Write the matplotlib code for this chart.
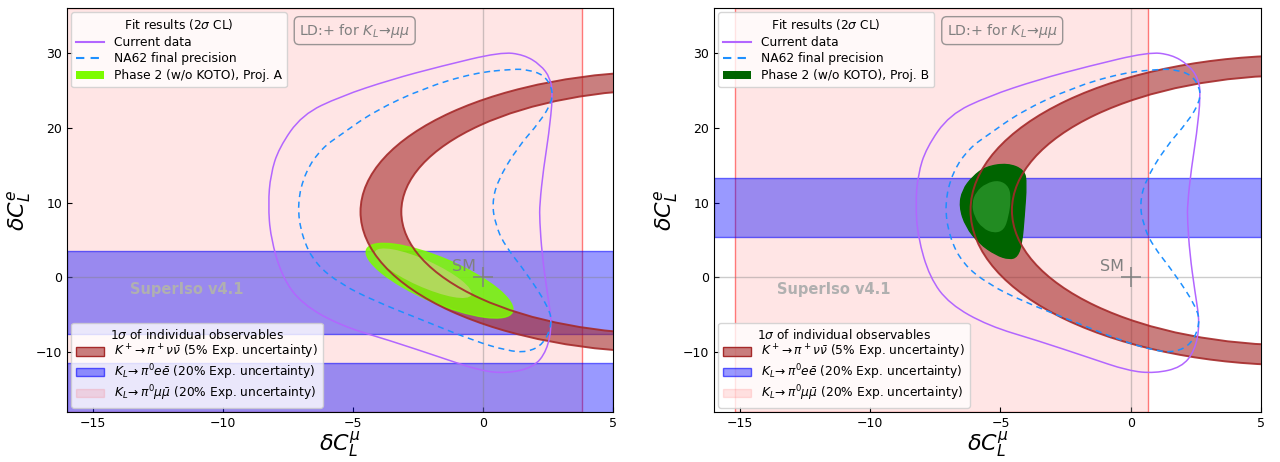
import matplotlib
matplotlib.use('Agg')
import matplotlib.pyplot as plt
import numpy as np
from matplotlib.path import Path
from matplotlib.patches import PathPatch, Patch
from matplotlib.lines import Line2D
from matplotlib.transforms import Affine2D

# ---- data ----
# 2 sigma contour, current data (same in both panels)
cur_x = [0.68, 1.57, 2.21, 2.59, 2.69, 2.53, 2.33, 2.18, 2.18, 2.27, 2.46, 2.66, 2.46, 1.95,
         0.93, -0.10, -1.63, -3.55, -5.47, -6.96, -7.72, -8.17, -8.26, -8.17, -7.85, -6.96,
         -5.47, -3.55, -1.63]
cur_y = [30.12, 29.76, 28.42, 26.64, 24.41, 19.06, 14.61, 9.80, 7.57, 3.11, -1.79, -6.24,
         -9.81, -12.03, -12.83, -12.49, -10.70, -8.48, -6.47, -3.57, 0.0, 5.35, 9.80, 13.72,
         17.29, 21.74, 24.20, 26.42, 28.21]
# 2 sigma contour, NA62 final precision
na62_x = [1.18, 1.70, 2.33, 2.66, 2.66, 2.21, 1.31, 0.55, 0.35, 0.48, 0.80, 1.70, 2.53, 2.66,
          2.33, 1.70, 0.93, -0.35, -2.27, -4.19, -5.47, -6.44, -6.96, -7.15, -6.83, -6.19,
          -5.47, -4.19, -2.27, -0.35]
na62_y = [27.85, 27.75, 27.09, 25.31, 23.53, 20.86, 17.29, 12.83, 9.80, 7.13, 4.45, 0.44,
          -4.01, -6.24, -8.92, -10.03, -9.81, -8.48, -5.80, -3.13, -0.90, 1.78, 5.35, 9.80,
          14.17, 17.29, 19.06, 22.19, 25.31, 27.31]

# Projection A (left)
kpnn_c_A = (7.2, 8.76)
kpnn_out_A = (11.91, 18.8)
kpnn_in_A = (10.34, 16.35)
klee_A = [(-7.51, 3.49), (-30.0, -11.46)]
klmm_A = (-30.0, 3.8)
# tilted ellipses: centre, half-axis vectors (data units)
ph2_out_A = [(-1.67, -0.45), (2.8, -4.2), (-0.36, -2.7)]
ph2_in_A = [(-2.3, 0.55), (1.85, -2.9), (-0.22, -1.6)]

# Projection B (right)
kpnn_c_B = (6.4, 8.96)
kpnn_out_B = (12.55, 20.7)
kpnn_in_B = (10.96, 18.05)
klee_B = [(5.35, 13.28)]
klmm_B = (-15.19, 0.68)
ph2_out_B_x = [-4.73, -4.09, -4.00, -4.09, -4.18, -4.35, -4.66, -5.17, -5.82, -6.33, -6.58,
               -6.46, -6.07, -5.56]
ph2_out_B_y = [15.24, 14.34, 12.57, 8.10, 4.55, 2.75, 2.41, 2.98, 4.55, 6.76, 9.44, 11.67,
               13.45, 14.79]
ph2_in_B_x = [-5.05, -4.66, -4.60, -4.69, -4.86, -5.24, -5.69, -6.01, -6.10, -5.94, -5.56]
ph2_in_B_y = [13.01, 12.11, 10.33, 8.10, 6.32, 5.88, 6.55, 8.10, 9.89, 11.44, 12.57]

BROWN = (0.647, 0.165, 0.165)
PURPLE = '#b266ff'
DASHBLUE = 'dodgerblue'


def ellipse_path(c, ax_len, flip=False):
    sx = -ax_len[0] if flip else ax_len[0]
    return Affine2D().scale(sx, ax_len[1]).translate(*c).transform_path(Path.unit_circle())


def tilted_path(p):
    (cx, cy), (ux, uy), (vx, vy) = p
    m = Affine2D.from_values(ux, uy, vx, vy, cx, cy)
    return m.transform_path(Path.unit_circle())


def smooth_closed(xs, ys):
    # quadratic bezier with the read points as control points
    p = np.column_stack([xs, ys])
    mid = (p + np.roll(p, -1, axis=0)) / 2
    verts = [mid[-1]]
    codes = [Path.MOVETO]
    for i in range(len(p)):
        verts += [p[i], mid[i]]
        codes += [Path.CURVE3, Path.CURVE3]
    return Path(verts, codes)


def panel(ax, kc, kout, kin, klee, klmm, proj, green):
    ax.axvspan(klmm[0], klmm[1], facecolor=(1, 0, 0, 0.1), edgecolor=(1, 0, 0, 0.5), lw=1, zorder=1)
    for lo, hi in klee:
        ax.axhspan(lo, hi, facecolor=(0, 0, 1, 0.4), edgecolor=(0, 0, 1, 0.55), lw=1, zorder=2)
    ring = Path.make_compound_path(ellipse_path(kc, kout), ellipse_path(kc, kin, flip=True))
    ax.add_patch(PathPatch(ring, facecolor=BROWN + (0.6,), edgecolor='none', zorder=3))

    ax.axhline(0, color='gray', alpha=0.4, lw=1, zorder=2.5)
    ax.axvline(0, color='gray', alpha=0.4, lw=1, zorder=2.5)

    green()

    ax.add_patch(PathPatch(ellipse_path(kc, kout), facecolor='none', edgecolor=BROWN + (0.9,), lw=1.4, zorder=6))
    ax.add_patch(PathPatch(ellipse_path(kc, kin), facecolor='none', edgecolor=BROWN + (0.9,), lw=1.4, zorder=6))

    ax.add_patch(PathPatch(smooth_closed(cur_x, cur_y), facecolor='none', edgecolor=PURPLE,
                           lw=1.1, zorder=7))
    ax.add_patch(PathPatch(smooth_closed(na62_x, na62_y), facecolor='none', edgecolor=DASHBLUE,
                           lw=1.1, ls=(0, (4, 3)), zorder=7))

    ax.plot(0, 0, marker='+', ms=14, mew=1.1, color='gray', zorder=8)
    ax.text(-0.25, 0.9, 'SM', color='gray', fontsize=11.5, ha='right', va='baseline', zorder=8)
    ax.text(0.116, 0.304, 'SuperIso v4.1', transform=ax.transAxes, fontsize=10.5, fontweight='bold',
            color='#b0b0b0', ha='left', va='center', zorder=8)
    ax.text(0.527, 0.944, r'LD:+ for $K_L\!\to\!\mu\mu$', transform=ax.transAxes, fontsize=10.2,
            color='gray', ha='center', va='center', zorder=8,
            bbox=dict(boxstyle='round,pad=0.35', facecolor='none', edgecolor='gray', alpha=0.8))

    ax.set_xlim(-16, 5)
    ax.set_ylim(-18, 36)
    ax.set_xticks([-15, -10, -5, 0, 5])
    ax.set_yticks([-10, 0, 10, 20, 30])
    ax.tick_params(direction='in', labelsize=9)
    ax.set_xlabel(r'$\delta C_L^{\mu}$', fontsize=16, labelpad=0)
    ax.set_ylabel(r'$\delta C_L^{e}$', fontsize=16, labelpad=2)

    gcol = 'lawngreen' if proj == 'A' else 'darkgreen'
    h1 = [Line2D([], [], color=PURPLE, lw=1.5),
          Line2D([], [], color=DASHBLUE, lw=1.5, ls=(0, (4, 3))),
          Patch(facecolor=gcol, edgecolor='none')]
    l1 = ax.legend(h1, ['Current data', 'NA62 final precision', 'Phase 2 (w/o KOTO), Proj. ' + proj],
                   title=r'Fit results (2$\sigma$ CL)', loc='upper left', fontsize=8.8,
                   title_fontsize=8.8, handlelength=2.3, borderaxespad=0.35, labelspacing=0.3)
    l1.set_zorder(20)
    ax.add_artist(l1)
    h2 = [Patch(facecolor=BROWN + (0.6,), edgecolor=BROWN),
          Patch(facecolor=(0, 0, 1, 0.4), edgecolor=(0, 0, 1, 0.6)),
          Patch(facecolor=(1, 0, 0, 0.1), edgecolor=(1, 0, 0, 0.1))]
    l2 = ax.legend(h2, [r'$K^+\!\to\pi^+\nu\bar{\nu}$ (5% Exp. uncertainty)',
                        r'$K_L\!\to\pi^0 e\bar{e}$ (20% Exp. uncertainty)',
                        r'$K_L\!\to\pi^0 \mu\bar{\mu}$ (20% Exp. uncertainty)'],
                   title=r'1$\sigma$ of individual observables', loc='lower left', fontsize=8.8,
                   title_fontsize=8.8, handlelength=2.3, borderaxespad=0.35, labelspacing=0.1)
    l2.set_zorder(20)


fig = plt.figure(figsize=(12.8, 4.62), dpi=100)
ax1 = fig.add_axes([0.0523, 0.1082, 0.4266, 0.8745])
ax2 = fig.add_axes([0.5578, 0.1082, 0.4273, 0.8745])


def green_A():
    ax1.add_patch(PathPatch(tilted_path(ph2_out_A), facecolor='lawngreen', edgecolor='lawngreen',
                            alpha=0.85, lw=1, zorder=5))
    ax1.add_patch(PathPatch(tilted_path(ph2_in_A), facecolor='#b0d95a', edgecolor='none',
                            alpha=1.0, zorder=5.5))


def green_B():
    ax2.add_patch(PathPatch(smooth_closed(ph2_out_B_x, ph2_out_B_y), facecolor='darkgreen',
                            edgecolor='darkgreen', lw=1, zorder=5))
    ax2.add_patch(PathPatch(smooth_closed(ph2_in_B_x, ph2_in_B_y), facecolor='forestgreen',
                            edgecolor='none', zorder=5.5))


panel(ax1, kpnn_c_A, kpnn_out_A, kpnn_in_A, klee_A, klmm_A, 'A', green_A)
panel(ax2, kpnn_c_B, kpnn_out_B, kpnn_in_B, klee_B, klmm_B, 'B', green_B)

fig.savefig('out.png', dpi=100)
